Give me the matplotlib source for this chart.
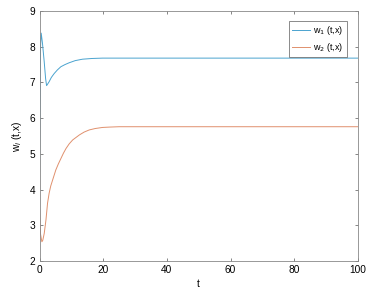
import matplotlib
matplotlib.use("Agg")
import matplotlib.pyplot as plt

# values
t1 = [0, 0.05, 0.3, 0.5, 0.9, 1.45, 1.9, 2.2, 2.5, 3.0, 3.7, 4.6, 5.6, 6.7, 8.0, 9.3, 11.2, 13.5, 16.5, 19.8, 25.0, 30.0, 40.0, 100.0]
w1 = [4.5, 5.3, 8.0, 8.38, 8.1, 7.58, 7.1, 6.91, 6.95, 7.02, 7.14, 7.25, 7.35, 7.44, 7.50, 7.55, 7.61, 7.65, 7.67, 7.68, 7.68, 7.68, 7.68, 7.68]

t2 = [0, 0.3, 0.72, 1.0, 1.45, 2.0, 2.5, 3.0, 3.5, 4.1, 5.1, 5.9, 6.7, 7.5, 8.3, 9.3, 10.4, 12.5, 14.0, 15.6, 17.5, 19.8, 22.0, 25.0, 30.0, 40.0, 100.0]
w2 = [3.43, 2.75, 2.54, 2.58, 2.77, 3.15, 3.62, 3.9, 4.1, 4.27, 4.55, 4.72, 4.87, 5.02, 5.15, 5.28, 5.39, 5.53, 5.61, 5.67, 5.71, 5.74, 5.75, 5.76, 5.76, 5.76, 5.76]

labels = ["w$_1$ (t,x)", "w$_2$ (t,x)"]

plt.rcParams["font.family"] = "Liberation Sans"
plt.rcParams["font.size"] = 7.3

fig = plt.figure(figsize=(3.7, 2.96), dpi=100)
ax = fig.add_axes([0.107, 0.118, 0.86, 0.845])

ax.plot(t1, w1, color="#4aa3cf", lw=0.7, label=labels[0])
ax.plot(t2, w2, color="#e0906d", lw=0.7, label=labels[1])

ax.set_xlim(0, 100)
ax.set_ylim(2, 9)
ax.set_xticks([0, 20, 40, 60, 80, 100])
ax.set_yticks(range(2, 10))
ax.tick_params(direction="in", length=2.5, width=0.5, color="#555555",
               top=True, right=True, pad=3)
for s in ax.spines.values():
    s.set_color("#888888")
    s.set_linewidth(0.6)

ax.set_xlabel("t", labelpad=3)
ax.set_ylabel("w$_i$ (t,x)", labelpad=4)

leg = ax.legend(loc="upper right", bbox_to_anchor=(0.966, 0.961), borderaxespad=0,
                fancybox=False, edgecolor="#555555", fontsize=6.5,
                handlelength=2.0, handletextpad=0.4,
                borderpad=0.35, labelspacing=0.45)
leg.get_frame().set_linewidth(0.6)

fig.savefig("out.png", dpi=100)
